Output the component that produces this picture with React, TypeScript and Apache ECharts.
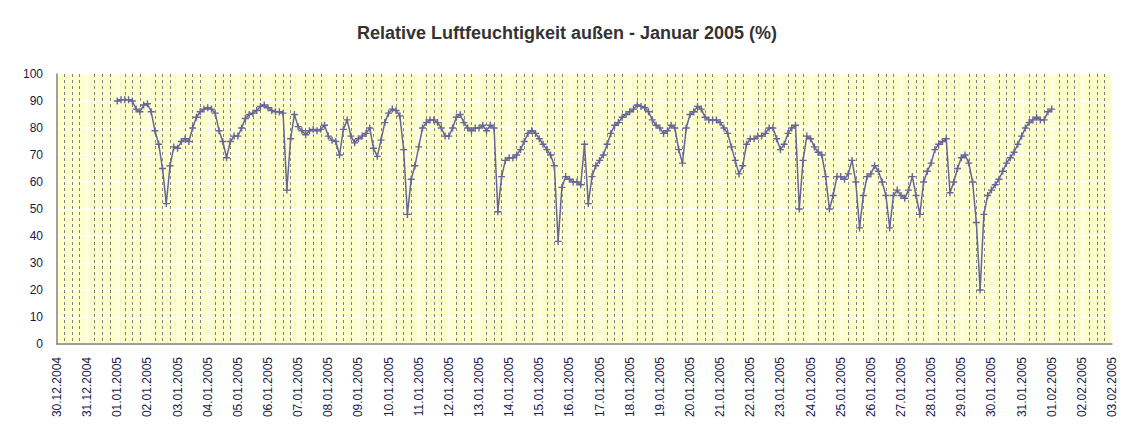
import React, { useEffect, useRef } from "react";
import * as echarts from "echarts";

// x axis: hours since 30.12.2004 00:00
const axisStartUTC = Date.UTC(2004, 11, 30);
const axisDays = 35;
const firstSampleHour = 48; // 01.01.2005 00:00
const sampleStepHours = 3;

const yTicks = [0, 10, 20, 30, 40, 50, 60, 70, 80, 90, 100];

// relative humidity, one value every 3 hours from 01.01.2005 00:00
const humidity = [
  // 01.01
  90, 90.5, 90.5, 90.5, 90, 87, 86, 88.5,
  // 02.01
  89, 86, 79, 74, 65, 52, 66, 73,
  // 03.01
  72.5, 75, 76, 75, 80, 84, 86, 87,
  // 04.01
  87.5, 87, 85.5, 79, 75, 69, 75, 77,
  // 05.01
  77, 80, 83.5, 85, 85.5, 86.5, 88, 88.5,
  // 06.01
  87.5, 86.5, 86, 86, 85.5, 57, 76, 85,
  // 07.01
  80.5, 79, 77.5, 79, 79.5, 79, 79.5, 81,
  // 08.01
  77, 75.5, 75, 70, 79.5, 83, 77, 74.5,
  // 09.01
  76, 77, 78, 80, 72.5, 69.5, 75.5, 82,
  // 10.01
  85.5, 87, 86.5, 84.5, 72, 48, 61, 66,
  // 11.01
  73, 80, 82, 83, 83, 82, 80, 77,
  // 12.01
  77, 80, 84, 85, 82, 80, 79, 80,
  // 13.01
  80, 81, 79, 81, 80, 49, 62, 68,
  // 14.01
  69, 69, 70, 72, 75, 78, 79, 78,
  // 15.01
  76, 74, 72, 70, 66, 38, 58, 62,
  // 16.01
  61, 60, 60, 59, 74, 52, 62, 66,
  // 17.01
  68, 70, 74, 78, 81, 82, 84, 85,
  // 18.01
  86, 87, 88.5, 88, 87.5, 86, 83, 81,
  // 19.01
  80, 78, 79, 81, 80, 72, 67, 80,
  // 20.01
  85, 86, 88, 87, 84, 83, 83, 83,
  // 21.01
  82, 80, 78, 73, 68, 63, 66, 74,
  // 22.01
  76, 76, 77, 77, 78, 80, 80, 76,
  // 23.01
  72, 74, 78, 80, 81, 50, 68, 77,
  // 24.01
  76, 73, 71, 70, 62, 50, 55, 62,
  // 25.01
  62, 61, 63, 68, 60, 43, 55, 62,
  // 26.01
  63, 66, 64, 60, 55, 43, 55, 57,
  // 27.01
  55, 54, 57, 62, 55, 48, 60, 64,
  // 28.01
  67, 72, 74, 75, 76, 56, 60, 65,
  // 29.01
  69, 70, 67, 60, 45, 20, 48, 55,
  // 30.01
  57, 59, 61, 64, 67, 69, 71, 74,
  // 31.01
  77, 80, 82, 83, 84, 83, 83, 86,
  // 01.02 00:00
  87,
];

const titleText = "Relative Luftfeuchtigkeit außen - Januar 2005 (%)";

function formatDay(hours: number): string {
  const d = new Date(axisStartUTC + hours * 3600 * 1000);
  const dd = String(d.getUTCDate()).padStart(2, "0");
  const mm = String(d.getUTCMonth() + 1).padStart(2, "0");
  return `${dd}.${mm}.${d.getUTCFullYear()}`;
}

export default function App() {
  const ref = useRef<HTMLDivElement>(null);
  useEffect(() => {
    if (!ref.current) return;
    const chart = echarts.init(ref.current, null, { renderer: "svg" });
    const seriesData = humidity.map((v, i) => [firstSampleHour + i * sampleStepHours, v]);
    const font = "'Liberation Sans', Arial, sans-serif";
    chart.setOption({
      animation: false,
      backgroundColor: "#ffffff",
      title: {
        text: titleText,
        left: 562 - 8,
        textAlign: "center",
        top: 11,
        textStyle: { fontFamily: font, fontSize: 18, fontWeight: "bold", color: "#333333" },
      },
      grid: {
        left: 49,
        right: 32,
        top: 66,
        bottom: 93,
        show: true,
        backgroundColor: "#ffffcc",
        borderWidth: 0,
      },
      xAxis: [
        {
          type: "value",
          min: 0,
          max: axisDays * 24,
          interval: 24,
          axisLine: { show: false },
          axisTick: { show: false },
          axisLabel: {
            rotate: 90,
            margin: 13,
            fontFamily: font,
            fontSize: 12,
            color: "#1a1a4a",
            formatter: (v: number) => formatDay(v),
          },
          splitLine: { show: true, lineStyle: { color: "#ffffff", width: 1.5 } },
          minorTick: { show: false, splitNumber: 4 },
          minorSplitLine: { show: true, lineStyle: { color: "#808080", width: 1, type: [3, 3] } },
        },
        {
          type: "value",
          position: "top",
          min: 0,
          max: axisDays * 24,
          axisLine: { show: true, lineStyle: { color: "#808080", width: 1.5 } },
          axisTick: { show: false },
          axisLabel: { show: false },
          splitLine: { show: false },
        },
      ],
      yAxis: [
        {
          type: "value",
          min: 0,
          max: 100,
          interval: 10,
          axisLine: { show: false },
          axisTick: { show: false },
          axisLabel: {
            margin: 14,
            fontFamily: font,
            fontSize: 12,
            color: "#1a1a4a",
            formatter: (v: number) => (yTicks.includes(v) ? String(v) : ""),
          },
          splitLine: { show: true, lineStyle: { color: "#ffffff", width: 1.5 } },
        },
        {
          type: "value",
          position: "right",
          min: 0,
          max: 100,
          axisLine: { show: true, lineStyle: { color: "#808080", width: 1.5 } },
          axisTick: { show: false },
          axisLabel: { show: false },
          splitLine: { show: false },
        },
      ],
      series: [
        {
          type: "line",
          xAxisIndex: 0,
          yAxisIndex: 0,
          data: seriesData,
          lineStyle: { color: "#666699", width: 1.5 },
          itemStyle: { color: "#666699" },
          symbol: "path://M0,4H10V6H0Z M4,0H6V10H4Z",
          symbolSize: 7,
          showSymbol: true,
          showAllSymbol: true,
          clip: false,
        },
      ],
    });
    return () => chart.dispose();
  }, []);
  return <div ref={ref} style={{ width: 1136, height: 429 }} />;
}
